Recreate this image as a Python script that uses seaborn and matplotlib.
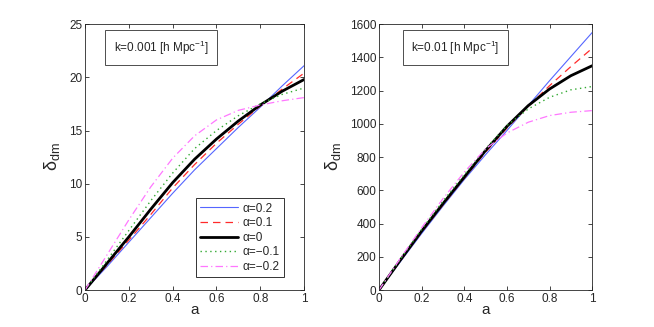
import seaborn as sns
import matplotlib.pyplot as plt
import pandas as pd

# scale factor a
a = [0.0, 0.1, 0.2, 0.3, 0.4, 0.5, 0.6, 0.7, 0.8, 0.9, 1.0]
labels = ['α=0.2', 'α=0.1', 'α=0', 'α=−0.1', 'α=−0.2']

# k = 0.001 h/Mpc
k1_a02 = [0, 2.2, 4.5, 6.8, 9.1, 11.3, 13.3, 15.3, 17.2, 19.2, 21.1]
k1_a01 = [0, 2.35, 4.7, 7.1, 9.6, 11.8, 13.8, 15.6, 17.3, 18.9, 20.4]
k1_a0 = [0, 2.5, 5.0, 7.6, 10.1, 12.3, 14.2, 15.9, 17.4, 18.7, 19.8]
k1_am01 = [0, 2.8, 5.6, 8.4, 11.0, 13.3, 15.0, 16.4, 17.5, 18.4, 19.0]
k1_am02 = [0, 3.3, 6.6, 9.7, 12.4, 14.5, 16.0, 16.9, 17.4, 17.8, 18.1]

# k = 0.01 h/Mpc
k2_a02 = [0, 170, 340, 505, 665, 815, 960, 1110, 1260, 1405, 1550]
k2_a01 = [0, 175, 348, 512, 673, 830, 975, 1105, 1230, 1345, 1455]
k2_a0 = [0, 180, 355, 520, 680, 840, 985, 1110, 1210, 1290, 1350]
k2_am01 = [0, 185, 365, 535, 695, 850, 990, 1090, 1160, 1205, 1225]
k2_am02 = [0, 190, 375, 550, 710, 850, 945, 1010, 1050, 1070, 1080]

colors = ['#5566ff', '#ff2a2a', 'black', '#33aa33', '#ff77ff']
styles = ['-', (0, (6, 4)), '-', (0, (1, 2.5)), (0, (6, 2.5, 1, 2.5))]
widths = [0.8, 0.9, 2.0, 1.0, 0.9]

sns.set_style('ticks')
plt.rcParams['font.family'] = ['Liberation Sans', 'DejaVu Sans']
plt.rcParams['mathtext.fontset'] = 'custom'
plt.rcParams['mathtext.rm'] = 'Liberation Sans'
plt.rcParams['mathtext.it'] = 'Liberation Sans'
fig = plt.figure(figsize=(6.54, 3.27), dpi=100)
ax1 = fig.add_axes([0.130, 0.113, 0.335, 0.813])
ax2 = fig.add_axes([0.5795, 0.113, 0.326, 0.813])

panels = [
    (ax1, [k1_a02, k1_a01, k1_a0, k1_am01, k1_am02], 25, 5, 'k=0.001 [h Mpc$^{-1}$]', 0.347),
    (ax2, [k2_a02, k2_a01, k2_a0, k2_am01, k2_am02], 1600, 200, 'k=0.01 [h Mpc$^{-1}$]', 0.357),
]

for ax, series, ymax, ystep, note, nx in panels:
    for vals, lab, c, ls, lw in zip(series, labels, colors, styles, widths):
        df = pd.DataFrame({'a': a, 'delta': vals})
        sns.lineplot(data=df, x='a', y='delta', ax=ax, color=c, lw=lw,
                     linestyle=ls, label=lab, legend=False)
    ax.set_xlim(0, 1)
    ax.set_ylim(0, ymax)
    ax.set_xticks([0, 0.2, 0.4, 0.6, 0.8, 1])
    ax.set_xticklabels(['0', '0.2', '0.4', '0.6', '0.8', '1'])
    ax.set_yticks(range(0, ymax + 1, ystep))
    ax.tick_params(direction='in', top=True, right=True, labelsize=8.5,
                   length=3, width=0.6, pad=2)
    for sp in ax.spines.values():
        sp.set_linewidth(0.6)
        sp.set_visible(True)
    ax.set_xlabel('a', fontsize=11, labelpad=-1)
    ax.set_ylabel(r'$\delta_{\rm dm}$', fontsize=13, labelpad=5)
    ax.text(nx, 0.912, note, transform=ax.transAxes, fontsize=8.5,
            ha='center', va='center',
            bbox=dict(boxstyle='square,pad=0.7', fc='white', ec='0.3', lw=0.7))

leg = ax1.legend(loc='lower right', bbox_to_anchor=(0.909, 0.049), fontsize=8.5,
                 frameon=True, fancybox=False, handlelength=3.2,
                 borderaxespad=0, labelspacing=0.22, handletextpad=0.4,
                 borderpad=0.35)
leg.get_frame().set_edgecolor('black')
leg.get_frame().set_linewidth(0.7)

fig.savefig('out.png', dpi=100)
